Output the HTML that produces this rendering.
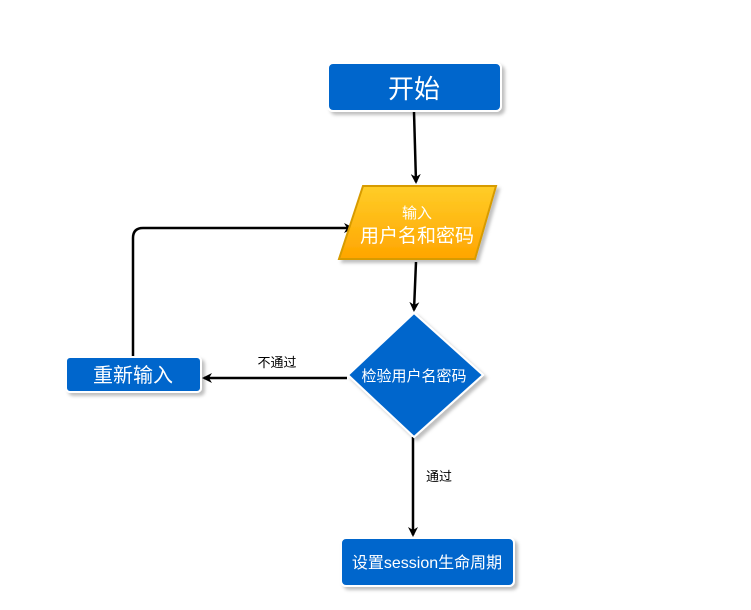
<!DOCTYPE html>
<html><head><meta charset="utf-8"><style>
body{margin:0;background:#fff;}
svg text{font-family:"Liberation Sans","Noto Sans CJK SC",sans-serif;}
</style></head><body>
<svg width="751" height="605" viewBox="0 0 751 605" xmlns="http://www.w3.org/2000/svg">
<defs>
<linearGradient id="g" x1="0" y1="0" x2="0" y2="1"><stop offset="0" stop-color="#ffcd28"/><stop offset="1" stop-color="#ffa500"/></linearGradient>
<filter id="s" x="-20%" y="-20%" width="140%" height="140%"><feDropShadow dx="3" dy="3" stdDeviation="1.5" flood-color="#000" flood-opacity="0.25"/></filter>
<marker id="a" markerWidth="10" markerHeight="10" refX="8" refY="5" orient="auto" markerUnits="userSpaceOnUse"><path d="M0,0 L10,5 L0,10 L3,5 Z" fill="#000"/></marker>
</defs>
<g stroke="#000" stroke-width="2.5" fill="none">
<path d="M414,112 L416,182" marker-end="url(#a)"/>
<path d="M416,262 L414,310" marker-end="url(#a)"/>
<path d="M347,378 L204,378" marker-end="url(#a)"/>
<path d="M413,437 L413,535" marker-end="url(#a)"/>
<path d="M133,357 L133,238 Q133,228 143,228 L352,228" marker-end="url(#a)"/>
</g>
<rect x="328" y="63" width="173" height="48" rx="5" fill="#0066cc" stroke="#fff" stroke-width="2" filter="url(#s)"/>
<text x="414" y="98" font-size="26" fill="#fff" text-anchor="middle">开始</text>
<polygon points="363,186 496,186 475,259 339,259" fill="url(#g)" stroke="#d79b00" stroke-width="2" filter="url(#s)"/>
<text x="417" y="218" font-size="15" fill="#fff" text-anchor="middle">输入</text>
<text x="417" y="242" font-size="19" fill="#fff" text-anchor="middle">用户名和密码</text>
<polygon points="414,313 483,375 414,437 348,375" fill="#0066cc" stroke="#fff" stroke-width="2" filter="url(#s)"/>
<text x="414" y="381" font-size="15" fill="#fff" text-anchor="middle">检验用户名密码</text>
<rect x="66" y="357" width="135" height="35" rx="4" fill="#0066cc" stroke="#fff" stroke-width="2" filter="url(#s)"/>
<text x="133" y="382" font-size="20" fill="#fff" text-anchor="middle">重新输入</text>
<rect x="341" y="538" width="173" height="48" rx="5" fill="#0066cc" stroke="#fff" stroke-width="2" filter="url(#s)"/>
<text x="427" y="568" font-size="16" fill="#fff" text-anchor="middle">设置session生命周期</text>
<text x="277" y="367" font-size="13" fill="#000" text-anchor="middle">不通过</text>
<text x="439" y="481" font-size="13" fill="#000" text-anchor="middle">通过</text>
</svg>
</body></html>
